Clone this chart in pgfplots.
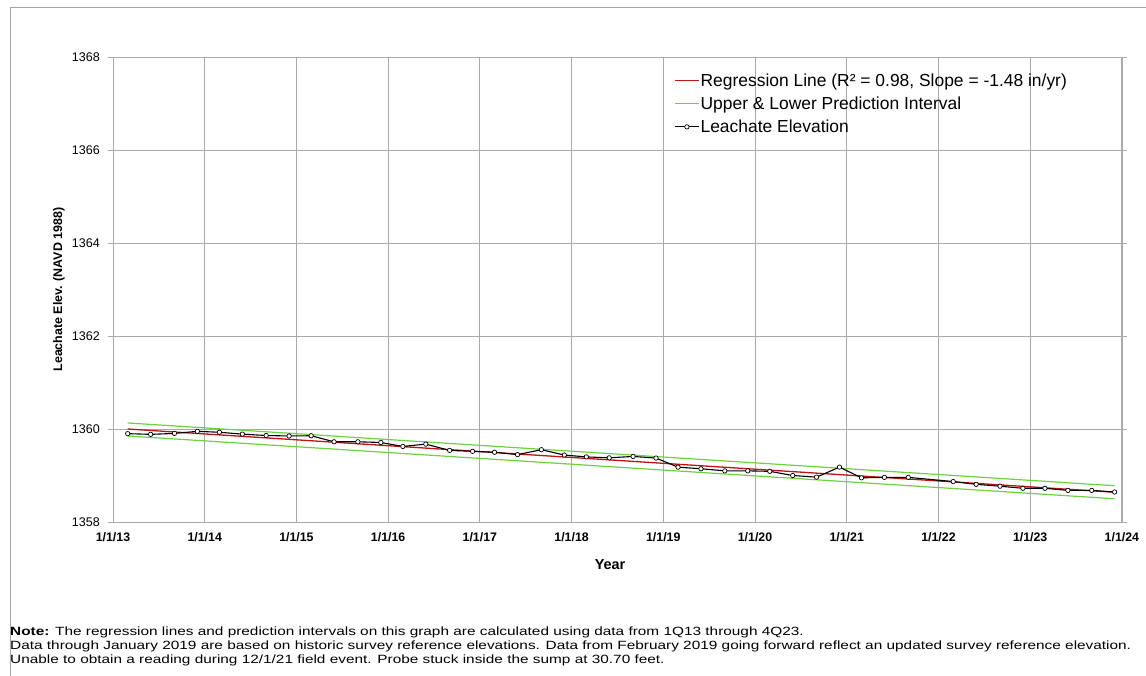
\documentclass[border=0pt]{standalone}
\usepackage{fontspec}
\setmainfont{Liberation Sans}
\usepackage{graphicx}
\usepackage{pgfplots}
\pgfplotsset{compat=1.18}
\definecolor{regred}{RGB}{190,20,20}
\definecolor{pigreen}{RGB}{110,210,60}
\definecolor{gridgray}{RGB}{170,170,170}
\newsavebox\notebox
\begin{document}
\sbox\notebox{\fontsize{12}{14}\selectfont Data through January 2019 are based on historic survey reference elevations. Data from February 2019 going forward reflect an updated survey reference elevation.}%
\pgfmathsetmacro\notescale{1125.2/\wd\notebox}%
\begin{tikzpicture}
\path[use as bounding box] (0bp,0bp) rectangle (1146bp,-676bp);
\draw[gray!70, line width=0.8bp] (10bp,-676bp) -- (10bp,-7bp) -- (1146bp,-7bp);
\begin{axis}[
  at={(113bp,-57bp)}, anchor=north west,
  scale only axis, width=1009bp, height=465bp,
  xmin=2013, xmax=2024, ymin=1358, ymax=1368,
  xtick={2013,...,2024},
  xticklabels={1/1/13,1/1/14,1/1/15,1/1/16,1/1/17,1/1/18,1/1/19,1/1/20,1/1/21,1/1/22,1/1/23,1/1/24},
  ytick={1358,1360,...,1368},
  grid=major,
  grid style={gridgray, line width=0.8bp},
  axis line style={gridgray, line width=0.8bp},
  tick align=outside,
  xtick style={draw=none},
  ytick style={gridgray, line width=0.8bp},
  major tick length=5bp,
  /pgf/number format/assume math mode=true,
  /pgf/number format/1000 sep={},
  yticklabel style={font=\fontsize{12.6}{14}\selectfont, inner sep=0pt, xshift=-8bp},
  xticklabel style={font=\bfseries\fontsize{12.4}{14}\selectfont, inner sep=0pt, yshift=-5bp},
  xlabel={\textbf{Year}},
  xlabel style={at={(axis description cs:0.4926,0)}, anchor=center, yshift=-43bp, font=\fontsize{14.5}{16}\selectfont},
  ylabel={\textbf{Leachate Elev. (NAVD 1988)}},
  ylabel style={at={(axis description cs:-0.0535,0.5)}, anchor=center, font=\fontsize{12.5}{14}\selectfont},
  legend style={at={(axis description cs:0.556,0.967)}, anchor=north west, draw=none, fill=none,
    font=\fontsize{17.5}{19}\selectfont, row sep=7bp, inner sep=0pt,
    nodes={inner sep=1bp}},
  legend cell align=left,
]
\addlegendimage{legend image code/.code={\draw[regred, line width=1.4bp] (0bp,0bp) -- (24bp,0bp);}}
\addlegendentry{Regression Line (R² = 0.98, Slope = -1.48 in/yr)}
\addlegendimage{legend image code/.code={\draw[pigreen, line width=1.4bp] (0bp,0bp) -- (24bp,0bp);}}
\addlegendentry{Upper \& Lower Prediction Interval}
\addlegendimage{legend image code/.code={\draw[black, line width=1bp] (0bp,0bp) -- (24bp,0bp);
  \draw[black, fill=white, line width=0.7bp] (12bp,0bp) circle (2.2bp);}}
\addlegendentry{Leachate Elevation}
\addplot[regred, line width=1.3bp, forget plot] coordinates {(2013.16,1360.00) (2023.92,1358.64)};
\addplot[pigreen, line width=1.2bp, forget plot] coordinates {(2013.16,1360.13) (2023.92,1358.78)};
\addplot[pigreen, line width=1.2bp, forget plot] coordinates {(2013.16,1359.85) (2023.92,1358.50)};
\addplot[black, line width=1.1bp, mark=*, mark size=2.2bp, forget plot,
  mark options={fill=white, draw=black, line width=0.7bp}] coordinates {
(2013.16,1359.90) (2013.41,1359.885) (2013.67,1359.905) (2013.92,1359.95)
(2014.16,1359.93) (2014.41,1359.89) (2014.67,1359.86) (2014.92,1359.85)
(2015.16,1359.855) (2015.41,1359.725) (2015.67,1359.725) (2015.92,1359.71)
(2016.16,1359.625) (2016.41,1359.675) (2016.67,1359.54) (2016.92,1359.52)
(2017.16,1359.50) (2017.41,1359.45) (2017.67,1359.555) (2017.92,1359.44)
(2018.16,1359.40) (2018.41,1359.38) (2018.67,1359.41) (2018.92,1359.375)
(2019.16,1359.18) (2019.41,1359.145) (2019.67,1359.10) (2019.92,1359.10)
(2020.16,1359.09) (2020.41,1359.00) (2020.67,1358.965) (2020.92,1359.18)
(2021.16,1358.95) (2021.41,1358.96) (2021.67,1358.96)
(2022.16,1358.87) (2022.41,1358.81) (2022.67,1358.77) (2022.92,1358.725)
(2023.16,1358.725) (2023.41,1358.68) (2023.67,1358.68) (2023.92,1358.645)
};
\end{axis}
\node[anchor=west, inner sep=0pt, font=\fontsize{12}{14}\selectfont] at (10bp,-632bp)
  {\scalebox{\notescale}[1]{\textbf{Note:} The regression lines and prediction intervals on this graph are calculated using data from 1Q13 through 4Q23.}};
\node[anchor=west, inner sep=0pt] at (10bp,-646bp) {\scalebox{\notescale}[1]{\usebox\notebox}};
\node[anchor=west, inner sep=0pt, font=\fontsize{12}{14}\selectfont] at (10bp,-660bp)
  {\scalebox{\notescale}[1]{Unable to obtain a reading during 12/1/21 field event. Probe stuck inside the sump at 30.70 feet.}};
\end{tikzpicture}
\end{document}
